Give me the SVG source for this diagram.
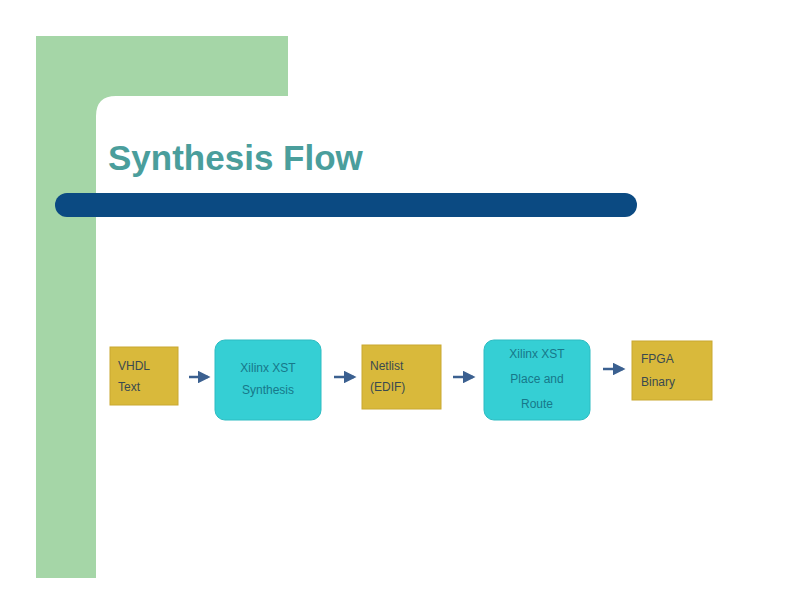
<svg xmlns="http://www.w3.org/2000/svg" width="792" height="612" viewBox="0 0 792 612">
<style>
.gold{fill:#d9b93b;stroke:#c9a830;stroke-width:1}
.cyan{fill:#35cfd4;stroke:#2cbcc2;stroke-width:1}
.t{font-family:"Liberation Sans",Arial,sans-serif;font-size:12px;fill:#3a4a50}
.tc{font-family:"Liberation Sans",Arial,sans-serif;font-size:12px;fill:#17788a;text-anchor:middle}
.conn{stroke:#3b6090;stroke-width:2.5;fill:none;marker-end:url(#ah)}
</style>
<defs>
<marker id="ah" markerWidth="5" markerHeight="5" refX="4" refY="2.5" orient="auto" markerUnits="strokeWidth">
<path d="M0,0 L5,2.5 L0,5 z" fill="#3b6090"/>
</marker>
</defs>
<rect width="792" height="612" fill="#ffffff"/>
<g id="frame">
<path d="M36,36 H288 V96 H116 Q96,96 96,116 V578 H36 Z" fill="#a5d6a7"/>
<rect x="55" y="193" width="582" height="24" rx="12" fill="#0b4a82"/>
<text x="108" y="170" font-family="Liberation Sans,Arial,sans-serif" font-size="35" font-weight="bold" fill="#4a9e9c">Synthesis Flow</text>
</g>
<g id="n1"><rect class="gold" x="110" y="347" width="68" height="58"/><text class="t" x="118" y="370">VHDL</text><text class="t" x="118" y="391">Text</text></g>
<g id="n2"><rect class="cyan" x="215" y="340" width="106" height="80" rx="10"/><text class="tc" x="268" y="372">Xilinx XST</text><text class="tc" x="268" y="394">Synthesis</text></g>
<g id="n3"><rect class="gold" x="362" y="345" width="79" height="64"/><text class="t" x="370" y="370">Netlist</text><text class="t" x="370" y="391">(EDIF)</text></g>
<g id="n4"><rect class="cyan" x="484" y="340" width="106" height="80" rx="10"/><text class="tc" x="537" y="358">Xilinx XST</text><text class="tc" x="537" y="383">Place and</text><text class="tc" x="537" y="408">Route</text></g>
<g id="n5"><rect class="gold" x="632" y="341" width="80" height="59"/><text class="t" x="641" y="363">FPGA</text><text class="t" x="641" y="386">Binary</text></g>
<g id="connectors">
<line class="conn" x1="189" y1="377" x2="208" y2="377"/>
<line class="conn" x1="334" y1="377" x2="354" y2="377"/>
<line class="conn" x1="453" y1="377" x2="473" y2="377"/>
<line class="conn" x1="603" y1="369" x2="623" y2="369"/>
</g>
</svg>
